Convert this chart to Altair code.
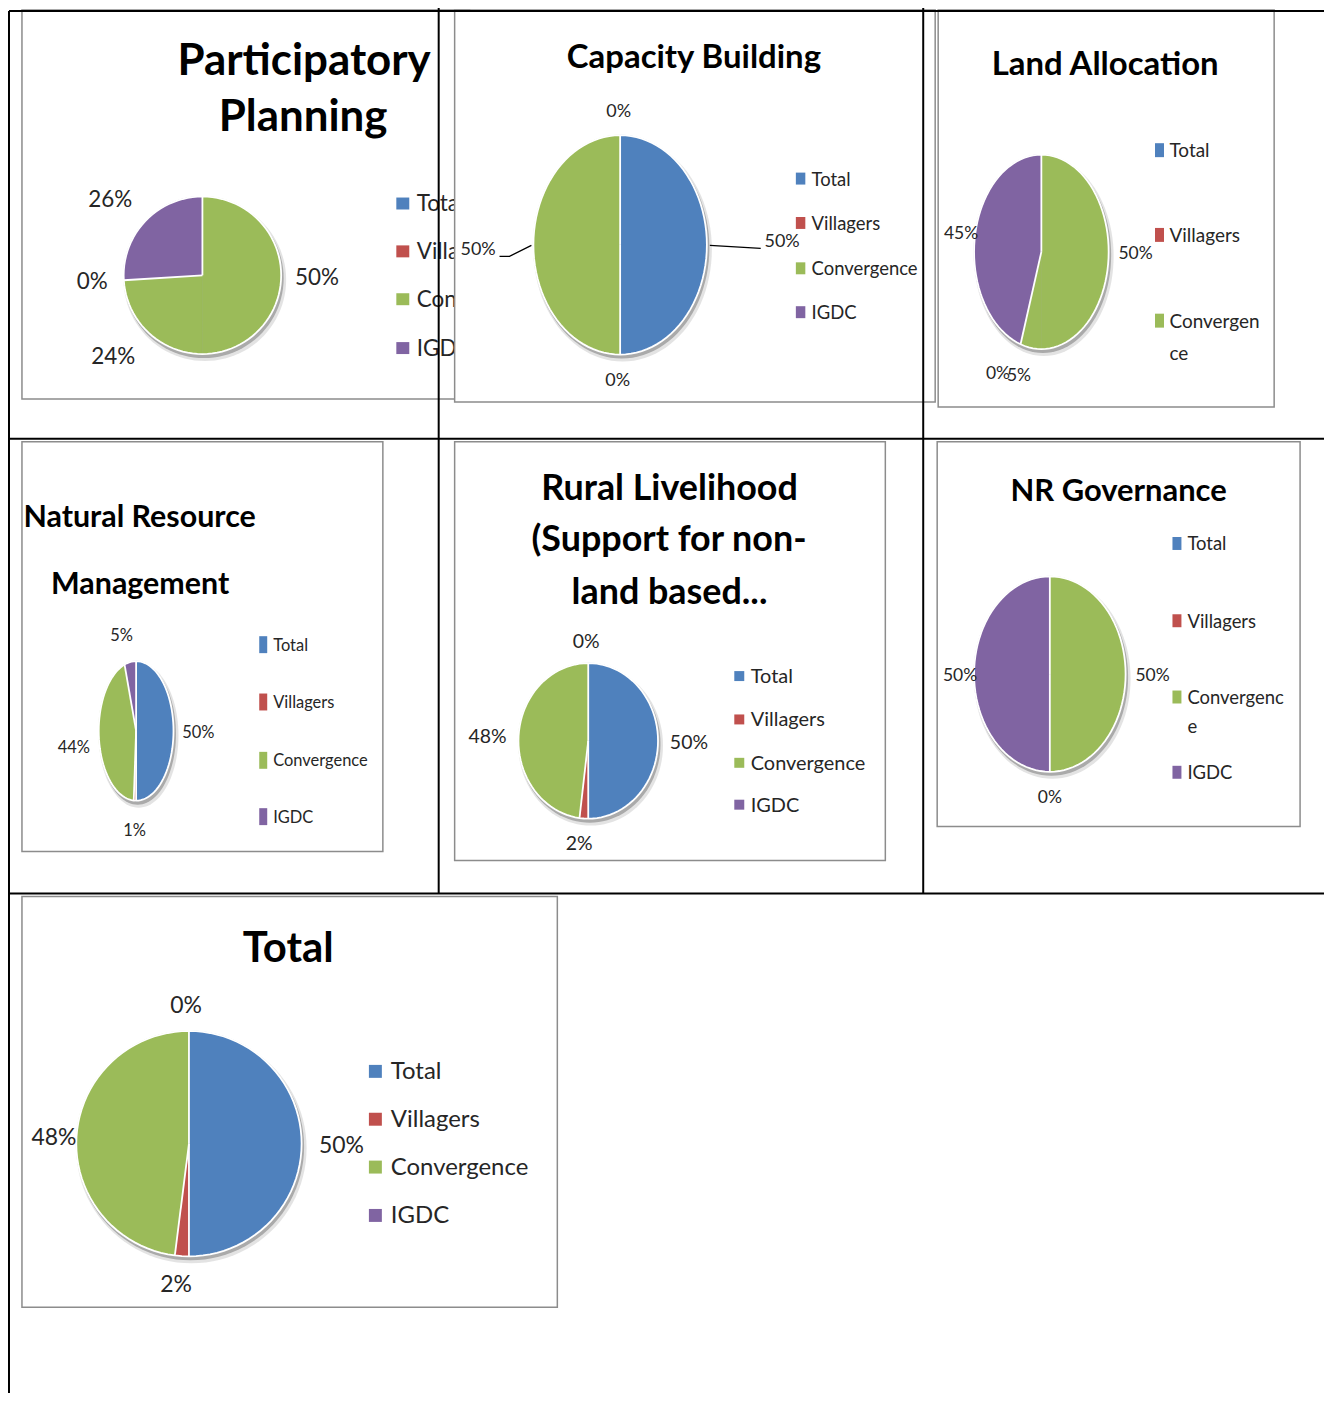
import altair as alt
import pandas as pd

# ---------------- data ----------------
categories = ["Total", "Villagers", "Convergence", "IGDC"]
chart_keys = ["PP", "CB", "LA", "NRM", "RL", "NRG", "TOT"]
title_lines = {
    "PP": ["Participatory", "Planning"],
    "CB": ["Capacity Building"],
    "LA": ["Land Allocation"],
    "NRM": ["Natural Resource", "Management"],
    "RL": ["Rural Livelihood", "(Support for non-", "land based..."],
    "NRG": ["NR Governance"],
    "TOT": ["Total"],
}
pp_values = [50, 0, 24, 26]
cb_values = [50, 0, 50, 0]
la_values = [50, 0, 5, 45]
nrm_values = [50, 1, 44, 5]
rl_values = [50, 2, 48, 0]
nrg_values = [50, 0, 0, 50]
total_values = [50, 2, 48, 0]
values = {"PP": pp_values, "CB": cb_values, "LA": la_values, "NRM": nrm_values,
          "RL": rl_values, "NRG": nrg_values, "TOT": total_values}

# legend entries visible in each panel (LA legend is cut after 3 items)
legend_count = {"PP": 4, "CB": 4, "LA": 3, "NRM": 4, "RL": 4, "NRG": 4, "TOT": 4}
legend_wrap = {"LA": {"Convergence": ["Convergen", "ce"]},
               "NRG": {"Convergence": ["Convergenc", "e"]}}

# ---------------- styles ----------------
cat_colors = ["#4F81BD", "#C0504D", "#9BBB59", "#8064A2"]
# in some panels of the original the "Total" slice is painted green
drawn_as = {"PP": {"Total": "Convergence"}, "LA": {"Total": "Convergence"},
            "NRG": {"Total": "Convergence"}}
FONT = "Lato, 'Open Sans', sans-serif"
style = {  # title, label, legend font sizes; legend marker w, h
    "PP": dict(tfs=44, lfs=22.5, gfs=22.5, sq=(13, 12)),
    "CB": dict(tfs=33, lfs=18, gfs=18.5, sq=(9.5, 12)),
    "LA": dict(tfs=33, lfs=17.5, gfs=19, sq=(9, 14)),
    "NRM": dict(tfs=30.5, lfs=16.5, gfs=16.5, sq=(8, 17)),
    "RL": dict(tfs=36, lfs=19.5, gfs=20, sq=(10, 10)),
    "NRG": dict(tfs=31, lfs=17.5, gfs=18.5, sq=(9, 13)),
    "TOT": dict(tfs=42, lfs=23, gfs=24, sq=(13, 13)),
}

# ---------------- layout (pixel positions in the page) ----------------
boxes = {
    "PP": (21, 7, 470, 397), "CB": (455, 7, 937, 400), "LA": (940, 7, 1277, 405),
    "NRM": (21, 440, 383, 851), "RL": (455, 440, 887, 860), "NRG": (939, 440, 1303, 826),
    "TOT": (21, 896, 558, 1308),
}
pie_geom = {  # cx, cy, rx, ry
    "PP": (202, 273, 79, 79), "CB": (621, 242.5, 87, 110), "LA": (1043.5, 249.5, 67.5, 97.5),
    "NRM": (135.5, 730, 37.5, 70), "RL": (589, 740, 70, 78), "NRG": (1052, 673, 76, 98),
    "TOT": (188.5, 1144, 113, 113),
}
label_pos = {  # None: label hidden behind an identical one
    "PP": [(317, 274.5), (91.5, 279), (112.5, 353.5), (109.5, 196.5)],
    "CB": [(783.5, 238.5), (618.5, 378), (478.5, 246.5), (619.5, 108)],
    "LA": [(1138, 250.5), (1000, 371), (1021, 373), (963, 231)],
    "NRM": [(198, 731), (134, 829), (73, 746), (121, 634)],
    "RL": [(690, 741), (580, 842), (488, 735.5), (587, 640)],
    "NRG": [(1155, 673.5), (1052, 796.5), None, (962, 673.5)],
    "TOT": [(341.5, 1145), (175.5, 1285), (53, 1137), (185.5, 1004.5)],
}
legend_pos = {  # square x, text x, row centres, centre of wrapped continuation line
    "PP": (403, 417, [201, 249, 297, 346], None),
    "CB": (802, 813, [176, 220.5, 266, 310], None),
    "LA": (1162, 1172, [147.5, 232.5, 318.5], 351),
    "NRM": (263, 273, [643.5, 701, 759.5, 816], None),
    "RL": (740.5, 752, [675, 718.5, 762, 804], None),
    "NRG": (1179.5, 1190, [542, 619.5, 696, 771.5], 725.5),
    "TOT": (375.5, 391, [1071.5, 1119.5, 1167.5, 1216], None),
}
title_pos = {  # centre x, baseline y per line
    "PP": [(304, 72), (303, 128)], "CB": [(695, 65.5)], "LA": [(1107.5, 72)],
    "NRM": [(139, 525), (139.5, 593)],
    "RL": [(670.5, 498), (670, 550), (670.5, 603)],
    "NRG": [(1121, 499.5)], "TOT": [(288, 962)],
}
leaders = {"CB": [[(711, 243), (762, 246)], [(532, 243), (510, 254), (500, 254)]]}
table_rules = [(8, 8, 1332, 8), (8, 8, 8, 1409), (439, 5, 439, 893), (925, 5, 925, 893),
               (5, 437, 1332, 437), (5, 893, 1332, 893)]
shadows = [(1.5, 3.0, 1.0, 0.35), (2.5, 4.5, 2.5, 0.15)]  # dx, dy, grow, opacity

# ---------------- chart ----------------
W, H = 1320, 1385
X0 = Y0 = 7
XD, YD = [X0, X0 + W], [Y0, Y0 + H]


def xe(f):
    return alt.X(f"{f}:Q", scale=alt.Scale(domain=XD, nice=False, zero=False), axis=None)


def ye(f):
    return alt.Y(f"{f}:Q", scale=alt.Scale(domain=YD, nice=False, zero=False, reverse=True), axis=None)


color_scale = alt.Scale(domain=categories, range=cat_colors)
N = 100
layers = []


def wedge_base(df):
    return alt.Chart(df).transform_filter("datum.value > 0").transform_joinaggregate(
        tot="sum(value)"
    ).transform_window(
        cum="sum(value)", sort=[alt.SortField("idx", order="ascending")], frame=[None, 0]
    ).transform_window(
        prev_shade="lag(shade)", sort=[alt.SortField("idx", order="ascending")]
    ).transform_calculate(
        a0="2*PI*(datum.cum - datum.value)/datum.tot",
        a1="2*PI*datum.cum/datum.tot",
    )


def ellipse(df):
    return alt.Chart(df).transform_calculate(
        step=f"sequence(0, {N + 1})"
    ).transform_flatten(["step"]).transform_calculate(
        ang=f"2*PI*datum.step/{N}",
        px="datum.cx + datum.rx*sin(datum.ang)",
        py="datum.cy - datum.ry*cos(datum.ang)",
    )


for key in chart_keys:
    st = style[key]
    cx, cy, rx, ry = pie_geom[key]
    bx0, by0, bx1, by1 = boxes[key]

    # chart box
    layers.append(alt.Chart(pd.DataFrame([dict(x=bx0, y=by0, x2=bx1, y2=by1)])).mark_rect(
        fill="white", stroke="#8c8c8c", strokeWidth=1.5
    ).encode(x=xe("x"), x2="x2:Q", y=ye("y"), y2="y2:Q"))

    # shadow under pie
    sh = pd.DataFrame([dict(cx=cx + dx, cy=cy + dy, rx=rx + g, ry=ry + g, op=o, k=i)
                       for i, (dx, dy, g, o) in enumerate(shadows)])
    layers.append(ellipse(sh).mark_line(strokeWidth=0).encode(
        x=xe("px"), y=ye("py"), order="step:Q", detail="k:N",
        fill=alt.value("#404040"), fillOpacity=alt.FillOpacity("op:Q", scale=None),
    ))

    # pie slices (elliptical wedges)
    pdf = pd.DataFrame({"cat": categories, "value": values[key], "idx": range(4)})
    pdf["shade"] = [drawn_as.get(key, {}).get(c, c) for c in categories]
    pdf["cx"], pdf["cy"], pdf["rx"], pdf["ry"] = cx, cy, rx, ry
    layers.append(wedge_base(pdf).transform_calculate(
        step=f"sequence(-1, {N + 1})",
    ).transform_flatten(["step"]).transform_calculate(
        ang=f"datum.a0 + (datum.a1 - datum.a0)*max(datum.step, 0)/{N}",
        px="datum.step < 0 ? datum.cx : datum.cx + datum.rx*sin(datum.ang)",
        py="datum.step < 0 ? datum.cy : datum.cy - datum.ry*cos(datum.ang)",
    ).mark_line(strokeWidth=0.6, strokeJoin="round").encode(
        x=xe("px"), y=ye("py"), order="step:Q", detail="cat:N",
        fill=alt.Fill("shade:N", scale=color_scale, legend=None),
        stroke=alt.Stroke("shade:N", scale=color_scale, legend=None),
    ))

    # white separators where the colour changes
    layers.append(wedge_base(pdf).transform_filter(
        "datum.prev_shade == null || datum.prev_shade != datum.shade"
    ).transform_calculate(
        step="sequence(0, 2)"
    ).transform_flatten(["step"]).transform_calculate(
        px="datum.cx + datum.step*datum.rx*sin(datum.a0)",
        py="datum.cy - datum.step*datum.ry*cos(datum.a0)",
    ).mark_line(strokeWidth=1.8, color="white").encode(
        x=xe("px"), y=ye("py"), order="step:Q", detail="cat:N"))

    # white outline of the pie
    layers.append(ellipse(pd.DataFrame([dict(cx=cx, cy=cy, rx=rx, ry=ry)])).mark_line(
        strokeWidth=1.8, color="white").encode(x=xe("px"), y=ye("py"), order="step:Q"))

    # percentage labels
    lrows = []
    for cat, v, p in zip(categories, values[key], label_pos[key]):
        lrows.append(dict(cat=cat, value=v, show=p is not None,
                          lx=p[0] if p else 0, ly=p[1] if p else 0))
    layers.append(alt.Chart(pd.DataFrame(lrows)).transform_joinaggregate(
        tot="sum(value)"
    ).transform_filter("datum.show").transform_calculate(
        frac="datum.value/datum.tot"
    ).mark_text(font=FONT, fontSize=st["lfs"], color="#262626", align="center",
                baseline="middle", dy=1).encode(
        x=xe("lx"), y=ye("ly"), text=alt.Text("frac:Q", format=".0%")))

    # leader lines
    if key in leaders:
        rows = []
        for si, seg in enumerate(leaders[key]):
            for oi, (px, py) in enumerate(seg):
                rows.append(dict(seg=si, o=oi, px=px, py=py))
        layers.append(alt.Chart(pd.DataFrame(rows)).mark_line(color="black", strokeWidth=1.3).encode(
            x=xe("px"), y=ye("py"), order="o:Q", detail="seg:N"))

    # legend
    sqx, tx, ys, cont_y = legend_pos[key]
    sq_rows, tx_rows = [], []
    for i, cat in enumerate(categories[:legend_count[key]]):
        sq_rows.append(dict(cat=cat, sx=sqx, sy=ys[i]))
        parts = legend_wrap.get(key, {}).get(cat, [cat])
        tx_rows.append(dict(label=parts[0], tx=tx, ty=ys[i]))
        if len(parts) > 1:
            tx_rows.append(dict(label=parts[1], tx=tx, ty=cont_y))
    w, h = st["sq"]
    m = max(w, h)
    path = f"M{-w / m:.3f},{-h / m:.3f}H{w / m:.3f}V{h / m:.3f}H{-w / m:.3f}Z"
    layers.append(alt.Chart(pd.DataFrame(sq_rows)).mark_point(
        shape=path, filled=True, opacity=1, size=m * m, strokeWidth=0
    ).encode(x=xe("sx"), y=ye("sy"), color=alt.Color("cat:N", scale=color_scale, legend=None)))
    layers.append(alt.Chart(pd.DataFrame(tx_rows)).mark_text(
        font=FONT, fontSize=st["gfs"], color="#262626", align="left", baseline="middle", dy=1
    ).encode(x=xe("tx"), y=ye("ty"), text="label:N"))

    # title
    trows = [dict(t=t, x=p[0], y=p[1]) for t, p in zip(title_lines[key], title_pos[key])]
    layers.append(alt.Chart(pd.DataFrame(trows)).mark_text(
        font=FONT, fontSize=st["tfs"], fontWeight="bold", color="black",
        align="center", baseline="alphabetic"
    ).encode(x=xe("x"), y=ye("y"), text="t:N"))

# table grid on top
rdf = pd.DataFrame([dict(x=a, y=b, x2=c, y2=d) for a, b, c, d in table_rules])
layers.append(alt.Chart(rdf).mark_rule(color="black", strokeWidth=2).encode(
    x=xe("x"), y=ye("y"), x2="x2:Q", y2="y2:Q"))

chart = alt.layer(*layers).properties(
    width=W, height=H, padding=0, background="white",
    autosize=alt.AutoSizeParams(type="none"),
).configure_view(stroke=None)

chart.save("out.html", embed_options={"renderer": "svg", "actions": False})
